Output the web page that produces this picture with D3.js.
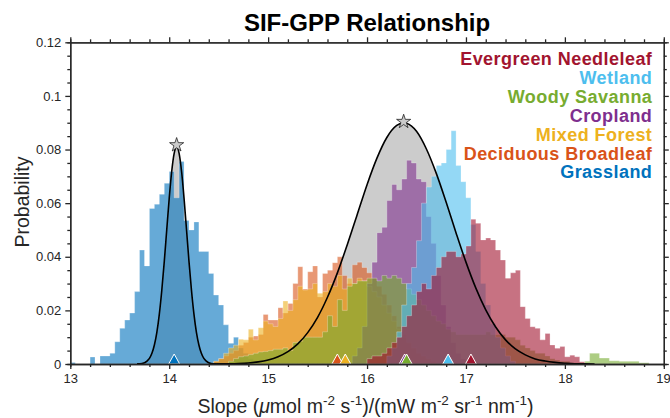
<!DOCTYPE html>
<html>
<head>
<meta charset="utf-8">
<script src="https://cdn.jsdelivr.net/npm/d3@7"></script>
<style>
  body { margin: 0; background: #fff; }
  svg text { font-family: "Liberation Sans", Arial, Helvetica, sans-serif; }
</style>
</head>
<body>
<div id="chart"></div>
<script>
// ---- data ----
const binWidth = 0.05;

const grasslandStart = 13.00;
const grasslandProb = [0.0006, 0, 0, 0, 0.0026, 0, 0.003, 0.003, 0.004, 0.0083, 0.0133, 0.0164, 0.019, 0.027,
  0.0425, 0.0366, 0.058, 0.0596, 0.0633, 0.0674, 0.0718, 0.062, 0.0755, 0.0535, 0.050, 0.053, 0.042, 0.042,
  0.0338, 0.0257, 0.022, 0.0146, 0.0077, 0.010, 0.006, 0.004, 0.002, 0.001];

const deciduousStart = 14.45;
const deciduousProb = [0.001, 0.002, 0.003, 0.004, 0.005, 0.007, 0.008, 0.010, 0.0104, 0.011, 0.0185, 0.0164,
  0.0164, 0.021, 0.019, 0.0226, 0.030, 0.0363, 0.028, 0.0344, 0.0366, 0.025, 0.0338, 0.035, 0.0378, 0.040,
  0.033, 0.030, 0.037, 0.038, 0.036, 0.034, 0.032, 0.029, 0.026, 0.022, 0.018, 0.014, 0.011, 0.008, 0.006,
  0.004, 0.003, 0.002, 0.001];

const mixedForestStart = 14.45;
const mixedForestProb = [0.001, 0.002, 0.004, 0.006, 0.007, 0.0092, 0.009, 0.013, 0.009, 0.0135, 0.016, 0.015,
  0.014, 0.017, 0.0235, 0.020, 0.024, 0.029, 0.0276, 0.028, 0.030, 0.0264, 0.027, 0.030, 0.029, 0.033, 0.028,
  0.032, 0.030, 0.032, 0.031, 0.029, 0.027, 0.025, 0.022, 0.019, 0.016, 0.013, 0.010, 0.008, 0.006, 0.004,
  0.003, 0.002, 0.001];

const croplandStart = 15.85;
const croplandProb = [0.003, 0.006, 0.014, 0.030, 0.038, 0.049, 0.051, 0.061, 0.067, 0.065, 0.069, 0.076,
  0.075, 0.069, 0.068, 0.055, 0.045, 0.033, 0.022, 0.014, 0.008, 0.004, 0.002];

const woodySavannaStart = 14.60;
const woodySavannaProb = [0.001, 0.002, 0.0027, 0.003, 0.0035, 0.004, 0.0045, 0.0047, 0.005, 0.0055, 0.0055,
  0.006, 0.005, 0.008, 0.0085, 0.010, 0.010, 0.010, 0.010, 0.012, 0.018, 0.014, 0.024, 0.020, 0.029, 0.030,
  0.031, 0.031, 0.032, 0.032, 0.031, 0.033, 0.032, 0.033, 0.032, 0.030, 0.028, 0.026, 0.024, 0.022, 0.020,
  0.018, 0.016, 0.015, 0.013, 0.012, 0.011, 0.011, 0.011, 0.011, 0.011, 0.011, 0.012, 0.011, 0.011, 0.011,
  0.010, 0.010, 0.009, 0.007, 0.006, 0.005, 0.004, 0.004, 0.003, 0.002, 0.0015, 0.001, 0.001, 0.0005, 0.0005,
  0.0005, 0.001, 0.004, 0.004, 0.0022, 0.0022, 0.0012, 0.0012, 0.001, 0.001, 0.001, 0.001, 0.0005, 0.0005];

const wetlandStart = 16.20;
const wetlandProb = [0.003, 0.006, 0.012, 0.022, 0.030, 0.036, 0.046, 0.060, 0.066, 0.070, 0.074, 0.075,
  0.080, 0.087, 0.074, 0.068, 0.062, 0.052, 0.042, 0.030, 0.022, 0.015, 0.010, 0.006, 0.003, 0.001];

const evergreenStart = 16.00;
const evergreenProb = [0.002, 0.003, 0.003, 0.004, 0.006, 0.008, 0.010, 0.014, 0.018, 0.022, 0.027, 0.030,
  0.028, 0.033, 0.036, 0.040, 0.042, 0.042, 0.040, 0.041, 0.044, 0.054, 0.0525, 0.0463, 0.047, 0.0463,
  0.0425, 0.0388, 0.032, 0.034, 0.035, 0.0214, 0.017, 0.0139, 0.0133, 0.009, 0.0114, 0.0071, 0.0059,
  0.0065, 0.0027, 0.0033, 0.0027, 0.0008];

// medians (triangles), bottom-to-top drawing order
const landNames = ['Grassland', 'Deciduous Broadleaf', 'Mixed Forest', 'Cropland', 'Woody Savanna', 'Wetland', 'Evergreen Needleleaf'];
const landColors = ['#0072BD', '#D95319', '#EDB120', '#7E2F8E', '#77AC30', '#4DBEEE', '#A2142F'];
const landMedians = [14.05, 15.70, 15.78, 16.38, 16.40, 16.82, 17.05];

// fitted curves
const narrowFitX = [13.675, 13.725, 13.775, 13.8, 13.825, 13.85, 13.875, 13.9, 13.925, 13.95, 13.975, 14.0,
  14.025, 14.05, 14.075, 14.1, 14.125, 14.15, 14.175, 14.2, 14.225, 14.25, 14.275, 14.3, 14.325, 14.35,
  14.375, 14.425, 14.475];
const narrowFitY = [0.00004, 0.0002, 0.0011, 0.0021, 0.0040, 0.0071, 0.0118, 0.0186, 0.0275, 0.0382, 0.0501,
  0.0618, 0.0718, 0.0786, 0.0810, 0.0786, 0.0718, 0.0618, 0.0501, 0.0382, 0.0275, 0.0186, 0.0118, 0.0071,
  0.0040, 0.0021, 0.0011, 0.0002, 0.00004];
const wideFitX = [14.4, 14.5, 14.6, 14.7, 14.8, 14.9, 15.0, 15.1, 15.2, 15.3, 15.4, 15.5, 15.6, 15.7, 15.8,
  15.9, 16.0, 16.1, 16.2, 16.3, 16.37, 16.4, 16.5, 16.6, 16.7, 16.8, 16.9, 17.0, 17.1, 17.2, 17.3, 17.4,
  17.5, 17.6, 17.7, 17.8, 17.9, 18.0, 18.1, 18.2, 18.3];
const wideFitY = [0.00002, 0.00005, 0.0001, 0.0002, 0.0004, 0.0008, 0.0015, 0.0027, 0.0046, 0.0075, 0.0117,
  0.0174, 0.0249, 0.0340, 0.0445, 0.0557, 0.0669, 0.0768, 0.0845, 0.0890, 0.0900, 0.0898, 0.0868, 0.0802,
  0.0711, 0.0603, 0.0489, 0.0380, 0.0283, 0.0202, 0.0138, 0.0090, 0.0056, 0.0034, 0.0019, 0.0011, 0.0006,
  0.0003, 0.0001, 0.00006, 0.00002];
const peakX = [14.075, 16.37];
const peakY = [0.0817, 0.0904];

// axes
const xTicks = [13, 14, 15, 16, 17, 18, 19];
const yTicks = [0, 0.02, 0.04, 0.06, 0.08, 0.1, 0.12];
const yTickLabels = ['0', '0.02', '0.04', '0.06', '0.08', '0.1', '0.12'];

// ---- layout ----
const width = 670,
      height = 418;
const plotLeft = 70.3, plotRight = 663.8, plotTop = 42.3, plotBottom = 364;
const axisColor = '#262626';

const svg = d3.select('#chart')
  .append('svg')
  .attr('width', width)
  .attr('height', height);

const x = d3.scaleLinear().domain([13, 19]).range([plotLeft, plotRight]);
const y = d3.scaleLinear().domain([0, 0.12]).range([plotBottom, plotTop]);

// series table built from the arrays above (drawing order)
const starts = [grasslandStart, deciduousStart, mixedForestStart, croplandStart, woodySavannaStart, wetlandStart, evergreenStart];
const probs = [grasslandProb, deciduousProb, mixedForestProb, croplandProb, woodySavannaProb, wetlandProb, evergreenProb];
const series = landNames.map(function (name, i) {
  const pts = probs[i].map(function (v, j) { return [starts[i] + j * binWidth, v]; });
  pts.push([starts[i] + probs[i].length * binWidth, probs[i][probs[i].length - 1]]);
  return { name: name, color: landColors[i], median: landMedians[i], points: pts };
});

svg.append('clipPath').attr('id', 'plotclip')
  .append('rect')
  .attr('x', plotLeft).attr('y', plotTop)
  .attr('width', plotRight - plotLeft).attr('height', plotBottom - plotTop);

const plot = svg.append('g').attr('clip-path', 'url(#plotclip)');

// gray filled fits (under the histograms)
const fitArea = d3.area()
  .x(function (d) { return x(d[0]); })
  .y0(y(0))
  .y1(function (d) { return y(d[1]); })
  .curve(d3.curveMonotoneX);
const fitLine = d3.line()
  .x(function (d) { return x(d[0]); })
  .y(function (d) { return y(d[1]); })
  .curve(d3.curveMonotoneX);

const fits = [
  narrowFitX.map(function (v, i) { return [v, narrowFitY[i]]; }),
  wideFitX.map(function (v, i) { return [v, wideFitY[i]]; })
];

plot.selectAll('path.fitfill')
  .data(fits)
  .enter()
  .append('path')
  .attr('class', 'fitfill')
  .attr('d', fitArea)
  .attr('fill', '#cccccc');

// histograms
const histArea = d3.area()
  .x(function (d) { return x(d[0]); })
  .y0(y(0))
  .y1(function (d) { return y(d[1]); })
  .curve(d3.curveStepAfter);

plot.selectAll('path.hist')
  .data(series)
  .enter()
  .append('path')
  .attr('class', 'hist')
  .attr('d', function (d) { return histArea(d.points); })
  .attr('fill', function (d) { return d.color; })
  .attr('fill-opacity', 0.6)
  .attr('stroke', '#ffffff')
  .attr('stroke-opacity', 0.45)
  .attr('stroke-width', 0.6);

// fit outlines
plot.selectAll('path.fitline')
  .data(fits)
  .enter()
  .append('path')
  .attr('class', 'fitline')
  .attr('d', fitLine)
  .attr('fill', 'none')
  .attr('stroke', '#000')
  .attr('stroke-width', 1.6);

// median triangles
svg.selectAll('path.median')
  .data(series)
  .enter()
  .append('path')
  .attr('class', 'median')
  .attr('transform', function (d) { return 'translate(' + x(d.median) + ',' + y(0) + ')'; })
  .attr('d', 'M0,-10L5.5,0L-5.5,0Z')
  .attr('fill', function (d) { return d.color; })
  .attr('stroke', '#fff')
  .attr('stroke-width', 1);

// peak stars
svg.selectAll('path.peak')
  .data(peakX)
  .enter()
  .append('path')
  .attr('class', 'peak')
  .attr('transform', function (d, i) { return 'translate(' + x(d) + ',' + y(peakY[i]) + ')'; })
  .attr('d', d3.symbol(d3.symbolStar, 62))
  .attr('fill', '#cccccc')
  .attr('stroke', '#222')
  .attr('stroke-width', 0.8);

// ---- axes ----
const xMinor = d3.range(13, 19.001, 0.2).filter(function (v) { return Math.abs(v - Math.round(v)) > 0.01; });
const yMinor = d3.range(0, 0.1201, 0.005).filter(function (v) { return Math.abs(v / 0.02 - Math.round(v / 0.02)) > 0.01; });

function styleAxis(g) {
  g.selectAll('path, line').attr('stroke', axisColor).attr('stroke-width', 1.3);
  g.selectAll('text').attr('fill', axisColor).style('font-size', '13px');
}

svg.append('g')
  .attr('transform', 'translate(0,' + plotBottom + ')')
  .call(d3.axisBottom(x).tickValues(xTicks).tickSize(5).tickSizeOuter(0).tickPadding(5).tickFormat(d3.format('d')))
  .call(styleAxis);
svg.append('g')
  .attr('transform', 'translate(0,' + plotBottom + ')')
  .call(d3.axisBottom(x).tickValues(xMinor).tickSize(3).tickFormat(''))
  .call(styleAxis);
svg.append('g')
  .attr('transform', 'translate(0,' + plotTop + ')')
  .call(d3.axisTop(x).tickValues(xTicks).tickSize(5).tickSizeOuter(0).tickFormat(''))
  .call(styleAxis);
svg.append('g')
  .attr('transform', 'translate(0,' + plotTop + ')')
  .call(d3.axisTop(x).tickValues(xMinor).tickSize(3).tickFormat(''))
  .call(styleAxis);
svg.append('g')
  .attr('transform', 'translate(' + plotLeft + ',0)')
  .call(d3.axisLeft(y).tickValues(yTicks).tickSize(5).tickSizeOuter(0).tickPadding(4)
    .tickFormat(function (d, i) { return yTickLabels[i]; }))
  .call(styleAxis);
svg.append('g')
  .attr('transform', 'translate(' + plotLeft + ',0)')
  .call(d3.axisLeft(y).tickValues(yMinor).tickSize(3).tickFormat(''))
  .call(styleAxis);
svg.append('g')
  .attr('transform', 'translate(' + plotRight + ',0)')
  .call(d3.axisRight(y).tickValues(yTicks).tickSize(5).tickSizeOuter(0).tickFormat(''))
  .call(styleAxis);
svg.append('g')
  .attr('transform', 'translate(' + plotRight + ',0)')
  .call(d3.axisRight(y).tickValues(yMinor).tickSize(3).tickFormat(''))
  .call(styleAxis);

// keep the last x label inside the page
svg.selectAll('.tick text')
  .filter(function (d) { return d === 19; })
  .attr('text-anchor', 'end')
  .attr('dx', '0.5em');

// ---- title and labels ----
svg.append('text')
  .text('SIF-GPP Relationship')
  .attr('x', (plotLeft + plotRight) / 2)
  .attr('y', 31)
  .attr('text-anchor', 'middle')
  .style('font-size', '24px')
  .style('font-weight', 'bold')
  .attr('fill', '#000');

svg.append('text')
  .text('Probability')
  .attr('transform', 'translate(29,' + 202 + ') rotate(-90)')
  .attr('text-anchor', 'middle')
  .style('font-size', '19.5px')
  .attr('fill', axisColor);

const xLabelParts = [
  ['Slope (', 'n'], ['\u03bc', 'i'], ['mol m', 'n'], ['-2', 's'], [' s', 'n'], ['-1', 's'],
  [')/(mW m', 'n'], ['-2', 's'], [' sr', 'n'], ['-1', 's'], [' nm', 'n'], ['-1', 's'], [')', 'n']
];
const xLabel = svg.append('text')
  .attr('x', 365.5)
  .attr('y', 413)
  .attr('text-anchor', 'middle')
  .style('font-size', '19.5px')
  .attr('fill', axisColor);
let raised = false;
xLabelParts.forEach(function (p) {
  const t = xLabel.append('tspan').text(p[0]);
  if (p[1] === 's') {
    t.attr('dy', -8).style('font-size', '13.5px');
    raised = true;
  } else {
    if (raised) { t.attr('dy', 8); raised = false; }
    if (p[1] === 'i') t.style('font-style', 'italic');
  }
});

// legend (text only, sorted by median, highest first)
const legendOrder = series.slice().reverse();
svg.selectAll('text.legend')
  .data(legendOrder)
  .enter()
  .append('text')
  .attr('class', 'legend')
  .text(function (d) { return d.name; })
  .attr('x', plotRight - 11.5)
  .attr('y', function (d, i) { return 65 + i * 18.9; })
  .attr('text-anchor', 'end')
  .style('font-size', '18px')
  .style('letter-spacing', '0.45px')
  .style('font-weight', 'bold')
  .attr('fill', function (d) { return d.color; });
</script>
</body>
</html>
